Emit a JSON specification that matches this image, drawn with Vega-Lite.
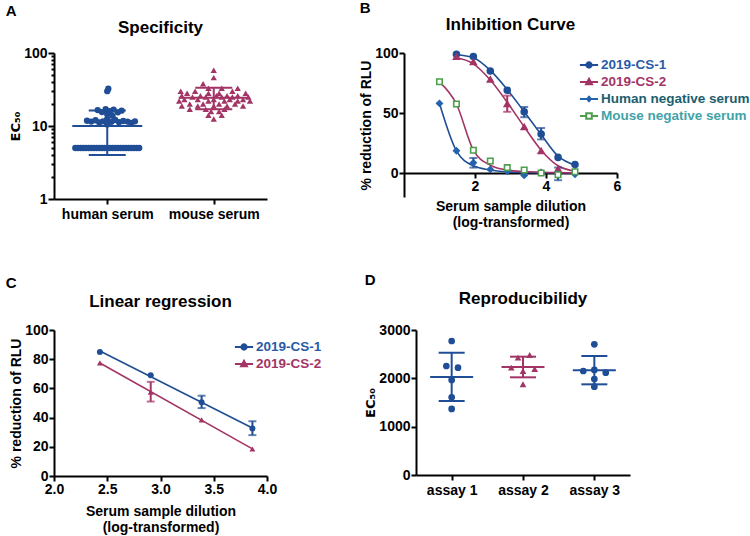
{
  "$schema": "https://vega.github.io/schema/vega-lite/v6.json",
  "padding": {"left": 5, "top": 1, "right": 5, "bottom": 5},
  "background": "white",
  "config": {
    "font": "Liberation Sans",
    "view": {"stroke": null},
    "axis": {"grid": false, "domainColor": "black", "domainWidth": 2, "tickColor": "black", "tickWidth": 2, "tickSize": 5, "labelFont": "Liberation Sans", "labelFontSize": 14, "labelFontWeight": "bold", "labelColor": "black", "titleFont": "Liberation Sans", "titleFontSize": 14, "titleFontWeight": "bold", "titleColor": "black", "labelPadding": 1, "titlePadding": 1, "labelFlush": false},
    "legend": {"labelFont": "Liberation Sans", "labelFontSize": 13.5, "labelFontWeight": "bold", "symbolSize": 196, "symbolStrokeWidth": 2, "rowPadding": 2, "labelOffset": 4, "padding": 0},
    "title": {"font": "Liberation Sans", "fontSize": 17, "fontWeight": "bold", "color": "black"}
  },
  "datasets": {
    "specA": [
      {"group": "human serum", "pos": 0.40, "ec50": 5}, {"group": "human serum", "pos": 0.45, "ec50": 5}, {"group": "human serum", "pos": 0.50, "ec50": 5}, {"group": "human serum", "pos": 0.55, "ec50": 5}, {"group": "human serum", "pos": 0.60, "ec50": 5},
      {"group": "human serum", "pos": 0.65, "ec50": 5}, {"group": "human serum", "pos": 0.70, "ec50": 5}, {"group": "human serum", "pos": 0.75, "ec50": 5}, {"group": "human serum", "pos": 0.80, "ec50": 5}, {"group": "human serum", "pos": 0.85, "ec50": 5},
      {"group": "human serum", "pos": 0.90, "ec50": 5}, {"group": "human serum", "pos": 0.95, "ec50": 5}, {"group": "human serum", "pos": 1.00, "ec50": 5}, {"group": "human serum", "pos": 1.05, "ec50": 5}, {"group": "human serum", "pos": 1.10, "ec50": 5},
      {"group": "human serum", "pos": 1.15, "ec50": 5}, {"group": "human serum", "pos": 1.20, "ec50": 5}, {"group": "human serum", "pos": 1.25, "ec50": 5}, {"group": "human serum", "pos": 1.30, "ec50": 5}, {"group": "human serum", "pos": 1.35, "ec50": 5},
      {"group": "human serum", "pos": 1.40, "ec50": 5}, {"group": "human serum", "pos": 1.45, "ec50": 5}, {"group": "human serum", "pos": 1.50, "ec50": 5}, {"group": "human serum", "pos": 1.55, "ec50": 5}, {"group": "human serum", "pos": 1.60, "ec50": 5},
      {"group": "human serum", "pos": 0.62, "ec50": 11.8}, {"group": "human serum", "pos": 0.70, "ec50": 11.5}, {"group": "human serum", "pos": 0.78, "ec50": 12.0}, {"group": "human serum", "pos": 0.85, "ec50": 11.2}, {"group": "human serum", "pos": 0.92, "ec50": 11.6},
      {"group": "human serum", "pos": 1.00, "ec50": 10.5}, {"group": "human serum", "pos": 1.00, "ec50": 11.8}, {"group": "human serum", "pos": 1.08, "ec50": 11.4}, {"group": "human serum", "pos": 1.15, "ec50": 12.1}, {"group": "human serum", "pos": 1.22, "ec50": 11.3},
      {"group": "human serum", "pos": 1.30, "ec50": 11.7}, {"group": "human serum", "pos": 1.38, "ec50": 11.5}, {"group": "human serum", "pos": 1.45, "ec50": 11.0}, {"group": "human serum", "pos": 1.52, "ec50": 11.6}, {"group": "human serum", "pos": 1.00, "ec50": 12.5},
      {"group": "human serum", "pos": 0.82, "ec50": 16.5}, {"group": "human serum", "pos": 0.90, "ec50": 15.5}, {"group": "human serum", "pos": 0.97, "ec50": 17.0}, {"group": "human serum", "pos": 1.05, "ec50": 16.0}, {"group": "human serum", "pos": 1.12, "ec50": 16.8},
      {"group": "human serum", "pos": 1.20, "ec50": 15.4}, {"group": "human serum", "pos": 1.27, "ec50": 16.2}, {"group": "human serum", "pos": 1.00, "ec50": 14.5}, {"group": "human serum", "pos": 1.10, "ec50": 13.8},
      {"group": "human serum", "pos": 1.00, "ec50": 30}, {"group": "human serum", "pos": 1.02, "ec50": 32.5},
      {"group": "mouse serum", "pos": 3.00, "ec50": 58}, {"group": "mouse serum", "pos": 3.00, "ec50": 46}, {"group": "mouse serum", "pos": 2.80, "ec50": 38},
      {"group": "mouse serum", "pos": 2.90, "ec50": 33}, {"group": "mouse serum", "pos": 3.15, "ec50": 33}, {"group": "mouse serum", "pos": 3.45, "ec50": 33},
      {"group": "mouse serum", "pos": 2.38, "ec50": 30}, {"group": "mouse serum", "pos": 2.65, "ec50": 30}, {"group": "mouse serum", "pos": 3.35, "ec50": 30},
      {"group": "mouse serum", "pos": 2.50, "ec50": 28}, {"group": "mouse serum", "pos": 2.90, "ec50": 28}, {"group": "mouse serum", "pos": 3.10, "ec50": 28}, {"group": "mouse serum", "pos": 3.60, "ec50": 28},
      {"group": "mouse serum", "pos": 2.40, "ec50": 26}, {"group": "mouse serum", "pos": 2.75, "ec50": 26}, {"group": "mouse serum", "pos": 3.05, "ec50": 26}, {"group": "mouse serum", "pos": 3.25, "ec50": 26}, {"group": "mouse serum", "pos": 3.45, "ec50": 26},
      {"group": "mouse serum", "pos": 2.60, "ec50": 25}, {"group": "mouse serum", "pos": 2.85, "ec50": 25}, {"group": "mouse serum", "pos": 3.15, "ec50": 25}, {"group": "mouse serum", "pos": 3.35, "ec50": 25}, {"group": "mouse serum", "pos": 3.65, "ec50": 25},
      {"group": "mouse serum", "pos": 2.45, "ec50": 23}, {"group": "mouse serum", "pos": 2.70, "ec50": 23}, {"group": "mouse serum", "pos": 3.00, "ec50": 23}, {"group": "mouse serum", "pos": 3.30, "ec50": 23}, {"group": "mouse serum", "pos": 3.55, "ec50": 23},
      {"group": "mouse serum", "pos": 2.35, "ec50": 22}, {"group": "mouse serum", "pos": 2.90, "ec50": 22}, {"group": "mouse serum", "pos": 3.20, "ec50": 22}, {"group": "mouse serum", "pos": 3.45, "ec50": 22}, {"group": "mouse serum", "pos": 3.68, "ec50": 22},
      {"group": "mouse serum", "pos": 2.55, "ec50": 20}, {"group": "mouse serum", "pos": 2.80, "ec50": 20}, {"group": "mouse serum", "pos": 3.10, "ec50": 20}, {"group": "mouse serum", "pos": 3.40, "ec50": 20},
      {"group": "mouse serum", "pos": 2.40, "ec50": 18.8}, {"group": "mouse serum", "pos": 2.70, "ec50": 18.8}, {"group": "mouse serum", "pos": 3.00, "ec50": 18.8}, {"group": "mouse serum", "pos": 3.25, "ec50": 18.8}, {"group": "mouse serum", "pos": 3.55, "ec50": 18.8},
      {"group": "mouse serum", "pos": 2.55, "ec50": 17}, {"group": "mouse serum", "pos": 2.85, "ec50": 17}, {"group": "mouse serum", "pos": 3.20, "ec50": 17},
      {"group": "mouse serum", "pos": 2.95, "ec50": 15.8}, {"group": "mouse serum", "pos": 3.10, "ec50": 15.8},
      {"group": "mouse serum", "pos": 2.90, "ec50": 14}, {"group": "mouse serum", "pos": 3.15, "ec50": 14},
      {"group": "mouse serum", "pos": 3.00, "ec50": 12.5}
    ],
    "statsA": [
      {"group": "human serum", "center": 1, "mean": 10, "lo": 4, "hi": 16.3},
      {"group": "mouse serum", "center": 3, "mean": 24.4, "lo": 16.9, "hi": 33.5}
    ],
    "curveB": [
      {"series": "2019-CS-1", "x": 1.477, "y": 99, "fit": 98.5},
      {"series": "2019-CS-1", "x": 1.954, "y": 97, "fit": 96},
      {"series": "2019-CS-1", "x": 2.431, "y": 85, "fit": 85.5},
      {"series": "2019-CS-1", "x": 2.908, "y": 69, "fit": 69.5},
      {"series": "2019-CS-1", "x": 3.386, "y": 51, "fit": 51, "lo": 46.5, "hi": 55},
      {"series": "2019-CS-1", "x": 3.863, "y": 32.5, "fit": 32, "lo": 28, "hi": 37.5},
      {"series": "2019-CS-1", "x": 4.34, "y": 13, "fit": 14},
      {"series": "2019-CS-1", "x": 4.817, "y": 7, "fit": 6.5},
      {"series": "2019-CS-2", "x": 1.477, "y": 97, "fit": 96},
      {"series": "2019-CS-2", "x": 1.954, "y": 92.5, "fit": 91},
      {"series": "2019-CS-2", "x": 2.431, "y": 78, "fit": 77.5},
      {"series": "2019-CS-2", "x": 2.908, "y": 57.5, "fit": 59, "lo": 51, "hi": 64.5},
      {"series": "2019-CS-2", "x": 3.386, "y": 38.5, "fit": 38.5},
      {"series": "2019-CS-2", "x": 3.863, "y": 18.5, "fit": 19},
      {"series": "2019-CS-2", "x": 4.34, "y": 3.5, "fit": 6},
      {"series": "2019-CS-2", "x": 4.817, "y": 1.5, "fit": 1.5},
      {"series": "Human negative serum", "x": 1.0, "y": 58, "fit": 58},
      {"series": "Human negative serum", "x": 1.477, "y": 18.5, "fit": 18.5},
      {"series": "Human negative serum", "x": 1.954, "y": 8.5, "fit": 6, "lo": 4.5, "hi": 12.5},
      {"series": "Human negative serum", "x": 2.431, "y": 3, "fit": 2.5},
      {"series": "Human negative serum", "x": 2.908, "y": 1.5, "fit": 1},
      {"series": "Human negative serum", "x": 3.386, "y": -2, "fit": 0.5},
      {"series": "Human negative serum", "x": 3.863, "y": 0.5, "fit": 0.3},
      {"series": "Human negative serum", "x": 4.34, "y": -1, "fit": 0.2, "lo": -6, "hi": 4.5},
      {"series": "Human negative serum", "x": 4.817, "y": -1, "fit": 0.1},
      {"series": "Mouse negative  serum", "x": 1.0, "y": 76, "fit": 76},
      {"series": "Mouse negative  serum", "x": 1.477, "y": 57.5, "fit": 57.5},
      {"series": "Mouse negative  serum", "x": 1.954, "y": 19, "fit": 19},
      {"series": "Mouse negative  serum", "x": 2.431, "y": 10, "fit": 6.5},
      {"series": "Mouse negative  serum", "x": 2.908, "y": 4.5, "fit": 2.5},
      {"series": "Mouse negative  serum", "x": 3.386, "y": 2.5, "fit": 1.2},
      {"series": "Mouse negative  serum", "x": 3.863, "y": 0, "fit": 0.6},
      {"series": "Mouse negative  serum", "x": 4.34, "y": -1.5, "fit": 0.3},
      {"series": "Mouse negative  serum", "x": 4.817, "y": 1, "fit": 0.2}
    ],
    "linC": [
      {"series": "2019-CS-1", "x": 2.431, "y": 85},
      {"series": "2019-CS-1", "x": 2.908, "y": 69},
      {"series": "2019-CS-1", "x": 3.386, "y": 50.5, "lo": 46.5, "hi": 55},
      {"series": "2019-CS-1", "x": 3.863, "y": 32.5, "lo": 28, "hi": 37.5},
      {"series": "2019-CS-2", "x": 2.431, "y": 77.5},
      {"series": "2019-CS-2", "x": 2.908, "y": 57.5, "lo": 51, "hi": 64.5},
      {"series": "2019-CS-2", "x": 3.386, "y": 38.5},
      {"series": "2019-CS-2", "x": 3.863, "y": 18.5}
    ],
    "repD": [
      {"assay": "assay 1", "pos": 1.0, "ec50": 2772}, {"assay": "assay 1", "pos": 0.925, "ec50": 2255}, {"assay": "assay 1", "pos": 1.089, "ec50": 2221},
      {"assay": "assay 1", "pos": 1.0, "ec50": 1966}, {"assay": "assay 1", "pos": 1.0, "ec50": 1608}, {"assay": "assay 1", "pos": 1.0, "ec50": 1366},
      {"assay": "assay 2", "pos": 1.93, "ec50": 2428}, {"assay": "assay 2", "pos": 2.094, "ec50": 2483}, {"assay": "assay 2", "pos": 1.836, "ec50": 2221},
      {"assay": "assay 2", "pos": 2.164, "ec50": 2193}, {"assay": "assay 2", "pos": 2.0, "ec50": 2152}, {"assay": "assay 2", "pos": 2.0, "ec50": 1877},
      {"assay": "assay 3", "pos": 3.0, "ec50": 2704}, {"assay": "assay 3", "pos": 2.845, "ec50": 2152}, {"assay": "assay 3", "pos": 3.0, "ec50": 2173},
      {"assay": "assay 3", "pos": 3.16, "ec50": 2118}, {"assay": "assay 3", "pos": 3.0, "ec50": 1986}, {"assay": "assay 3", "pos": 3.0, "ec50": 1828}
    ],
    "statsD": [
      {"assay": "assay 1", "center": 1, "mean": 2028, "lo": 1531, "hi": 2531},
      {"assay": "assay 2", "center": 2, "mean": 2234, "lo": 2021, "hi": 2448},
      {"assay": "assay 3", "center": 3, "mean": 2166, "lo": 1876, "hi": 2462}
    ]
  },
  "spacing": 44,
  "vconcat": [
    {
      "spacing": 92,
      "hconcat": [
        {
          "title": {"text": "A", "anchor": "start", "fontSize": 15, "offset": 0, "dx": -4},
          "vconcat": [
            {
              "title": {"text": "Specificity", "offset": 9},
              "width": 213, "height": 146,
              "layer": [
                {
                  "data": {"name": "specA"},
                  "mark": {"type": "point", "filled": true, "opacity": 1, "size": 40},
                  "encoding": {
                    "x": {"field": "pos", "type": "quantitative", "scale": {"domain": [0, 4], "nice": false}, "axis": {"values": [1, 3], "labelExpr": "datum.value == 1 ? 'human serum' : 'mouse serum'", "title": null, "labelPadding": 3}},
                    "y": {"field": "ec50", "type": "quantitative", "scale": {"type": "log", "domain": [1, 100], "nice": false}, "axis": {"values": [1, 2, 3, 4, 5, 6, 7, 8, 9, 10, 20, 30, 40, 50, 60, 70, 80, 90, 100], "labelExpr": "datum.value == 1 || datum.value == 10 || datum.value == 100 ? format(datum.value, 'd') : ''", "labelOverlap": false, "tickSize": {"condition": {"test": "datum.value == 1 || datum.value == 10 || datum.value == 100", "value": 6}, "value": 3}, "title": "EC₅₀", "titleFont": "DejaVu Sans", "titleFontSize": 13}},
                    "color": {"field": "group", "type": "nominal", "scale": {"domain": ["human serum", "mouse serum"], "range": ["#1f4e96", "#a33566"]}, "legend": null},
                    "shape": {"field": "group", "type": "nominal", "scale": {"domain": ["human serum", "mouse serum"], "range": ["circle", "triangle-up"]}, "legend": null}
                  }
                },
                {
                  "data": {"name": "statsA"},
                  "mark": {"type": "rule", "strokeWidth": 2},
                  "encoding": {
                    "x": {"field": "center", "type": "quantitative"},
                    "y": {"field": "lo", "type": "quantitative"},
                    "y2": {"field": "hi"},
                    "color": {"field": "group", "type": "nominal", "legend": null}
                  }
                },
                {
                  "data": {"name": "statsA"},
                  "mark": {"type": "tick", "orient": "horizontal", "size": 70, "thickness": 2, "opacity": 1},
                  "encoding": {
                    "x": {"field": "center", "type": "quantitative"},
                    "y": {"field": "mean", "type": "quantitative"},
                    "color": {"field": "group", "type": "nominal", "legend": null}
                  }
                },
                {
                  "data": {"name": "statsA"},
                  "mark": {"type": "tick", "orient": "horizontal", "size": 37, "thickness": 2, "opacity": 1},
                  "encoding": {
                    "x": {"field": "center", "type": "quantitative"},
                    "y": {"field": "lo", "type": "quantitative"},
                    "color": {"field": "group", "type": "nominal", "legend": null}
                  }
                },
                {
                  "data": {"name": "statsA"},
                  "mark": {"type": "tick", "orient": "horizontal", "size": 37, "thickness": 2, "opacity": 1},
                  "encoding": {
                    "x": {"field": "center", "type": "quantitative"},
                    "y": {"field": "hi", "type": "quantitative"},
                    "color": {"field": "group", "type": "nominal", "legend": null}
                  }
                }
              ]
            }
          ]
        },
        {
          "title": {"text": "B", "anchor": "start", "fontSize": 15, "offset": 0, "dx": 0},
          "vconcat": [
            {
              "title": {"text": "Inhibition Curve", "offset": 12},
              "width": 213, "height": 144,
              "data": {"name": "curveB"},
              "encoding": {
                "x": {"field": "x", "type": "quantitative", "scale": {"domain": [0, 6], "nice": false}, "axis": {"values": [2, 4, 6], "offset": -24, "title": ["Serum sample dilution", "(log-transformed)"], "titlePadding": 6}},
                "y": {"field": "y", "type": "quantitative", "scale": {"domain": [-20, 100], "nice": false}, "axis": {"values": [0, 50, 100], "title": "% reduction of  RLU"}}
              },
              "layer": [
                {
                  "mark": {"type": "line", "interpolate": "monotone", "strokeWidth": 1.6},
                  "encoding": {
                    "y": {"field": "fit", "type": "quantitative"},
                    "color": {"field": "series", "type": "nominal", "scale": {"domain": ["2019-CS-1", "2019-CS-2", "Human negative serum", "Mouse negative  serum"], "range": ["#1f4e96", "#a33566", "#2563ad", "#4d9e4d"]}, "legend": null}
                  }
                },
                {
                  "transform": [{"filter": "isValid(datum.lo)"}],
                  "mark": {"type": "errorbar", "ticks": true, "size": 8, "thickness": 2},
                  "encoding": {
                    "y": {"field": "lo", "type": "quantitative"},
                    "y2": {"field": "hi"},
                    "color": {"field": "series", "type": "nominal", "legend": null}
                  }
                },
                {
                  "mark": {"type": "point", "opacity": 1, "strokeWidth": 1.6},
                  "encoding": {
                    "shape": {"field": "series", "type": "nominal", "scale": {"domain": ["2019-CS-1", "2019-CS-2", "Human negative serum", "Mouse negative  serum"], "range": ["circle", "triangle-up", "diamond", "square"]}, "legend": null},
                    "stroke": {"field": "series", "type": "nominal", "scale": {"domain": ["2019-CS-1", "2019-CS-2", "Human negative serum", "Mouse negative  serum"], "range": ["#1f4e96", "#a33566", "#2563ad", "#4d9e4d"]}, "legend": null},
                    "fill": {"field": "series", "type": "nominal", "scale": {"domain": ["2019-CS-1", "2019-CS-2", "Human negative serum", "Mouse negative  serum"], "range": ["#1f4e96", "#a33566", "#2563ad", "#ffffff"]}, "legend": null},
                    "size": {"field": "series", "type": "nominal", "scale": {"domain": ["2019-CS-1", "2019-CS-2", "Human negative serum", "Mouse negative  serum"], "range": [36, 30, 16, 40]}, "legend": null}
                  }
                },
                {
                  "transform": [{"filter": "false"}],
                  "mark": {"type": "point", "opacity": 1, "strokeWidth": 2},
                  "encoding": {
                    "shape": {"field": "series", "type": "nominal", "scale": {"domain": ["2019-CS-1", "2019-CS-2", "Human negative serum", "Mouse negative  serum"], "range": ["M-1.3,0H1.3M-0.38,0A0.38,0.38,0,1,0,0.38,0A0.38,0.38,0,1,0,-0.38,0Z", "M-1.3,0H1.3M0,-0.45L0.42,0.32L-0.42,0.32Z", "M-1.3,0H1.3M0,-0.32L0.27,0L0,0.32L-0.27,0Z", "M-1.3,0H-0.4M0.4,0H1.3M-0.4,-0.4H0.4V0.4H-0.4Z"]}, "legend": {"title": null, "orient": "none", "legendX": 177, "legendY": 4, "labelColor": {"expr": "datum.label == '2019-CS-1' ? '#2a5ba8' : datum.label == '2019-CS-2' ? '#a33566' : datum.label == 'Human negative serum' ? '#1b5e6e' : '#3fa3a8'"}}},
                    "stroke": {"field": "series", "type": "nominal", "scale": {"domain": ["2019-CS-1", "2019-CS-2", "Human negative serum", "Mouse negative  serum"], "range": ["#1f4e96", "#a33566", "#2563ad", "#4d9e4d"]}},
                    "fill": {"field": "series", "type": "nominal", "scale": {"domain": ["2019-CS-1", "2019-CS-2", "Human negative serum", "Mouse negative  serum"], "range": ["#1f4e96", "#a33566", "#2563ad", "#ffffff"]}}
                  }
                }
              ],
              "resolve": {"scale": {"shape": "independent", "stroke": "independent", "fill": "independent"}}
            }
          ]
        }
      ]
    },
    {
      "spacing": 42,
      "hconcat": [
        {
          "title": {"text": "C", "anchor": "start", "fontSize": 15, "offset": 2, "dx": -4},
          "vconcat": [
            {
              "title": {"text": "Linear regression", "offset": 12},
              "width": 213, "height": 146,
              "data": {"name": "linC"},
              "encoding": {
                "x": {"field": "x", "type": "quantitative", "scale": {"domain": [2, 4], "nice": false}, "axis": {"values": [2, 2.5, 3, 3.5, 4], "format": ".1f", "title": ["Serum sample dilution", "(log-transformed)"], "titlePadding": 8}},
                "y": {"field": "y", "type": "quantitative", "scale": {"domain": [0, 100], "nice": false}, "axis": {"values": [0, 20, 40, 60, 80, 100], "title": "% reduction of  RLU"}}
              },
              "layer": [
                {
                  "transform": [{"regression": "y", "on": "x", "groupby": ["series"]}],
                  "mark": {"type": "line", "strokeWidth": 1.6},
                  "encoding": {
                    "color": {"field": "series", "type": "nominal", "scale": {"domain": ["2019-CS-1", "2019-CS-2"], "range": ["#1f4e96", "#a33566"]}, "legend": null}
                  }
                },
                {
                  "transform": [{"filter": "isValid(datum.lo)"}],
                  "mark": {"type": "errorbar", "ticks": true, "size": 8, "thickness": 2},
                  "encoding": {
                    "y": {"field": "lo", "type": "quantitative"},
                    "y2": {"field": "hi"},
                    "color": {"field": "series", "type": "nominal", "legend": null}
                  }
                },
                {
                  "mark": {"type": "point", "filled": true, "opacity": 1, "size": 36},
                  "encoding": {
                    "shape": {"field": "series", "type": "nominal", "scale": {"domain": ["2019-CS-1", "2019-CS-2"], "range": ["circle", "triangle-up"]}, "legend": null},
                    "color": {"field": "series", "type": "nominal", "legend": null}
                  }
                },
                {
                  "transform": [{"filter": "false"}],
                  "mark": {"type": "point", "opacity": 1, "strokeWidth": 2},
                  "encoding": {
                    "shape": {"field": "series", "type": "nominal", "scale": {"domain": ["2019-CS-1", "2019-CS-2"], "range": ["M-1.3,0H1.3M-0.38,0A0.38,0.38,0,1,0,0.38,0A0.38,0.38,0,1,0,-0.38,0Z", "M-1.3,0H1.3M0,-0.45L0.42,0.32L-0.42,0.32Z"]}, "legend": {"title": null, "orient": "none", "legendX": 182, "legendY": 9, "labelColor": {"expr": "datum.label == '2019-CS-1' ? '#2a5ba8' : '#a33566'"}}},
                    "stroke": {"field": "series", "type": "nominal", "scale": {"domain": ["2019-CS-1", "2019-CS-2"], "range": ["#1f4e96", "#a33566"]}},
                    "fill": {"field": "series", "type": "nominal", "scale": {"domain": ["2019-CS-1", "2019-CS-2"], "range": ["#1f4e96", "#a33566"]}}
                  }
                }
              ],
              "resolve": {"scale": {"shape": "independent", "stroke": "independent", "fill": "independent"}}
            }
          ]
        },
        {
          "title": {"text": "D", "anchor": "start", "fontSize": 15, "offset": 2, "dx": 0},
          "vconcat": [
            {
              "title": {"text": "Reproducibilidy", "offset": 15},
              "width": 214, "height": 145,
              "layer": [
                {
                  "data": {"name": "repD"},
                  "mark": {"type": "point", "filled": true, "opacity": 1, "size": 45},
                  "encoding": {
                    "x": {"field": "pos", "type": "quantitative", "scale": {"domain": [0.5, 3.5], "nice": false, "zero": false}, "axis": {"values": [1, 2, 3], "labelExpr": "'assay ' + datum.value", "title": null, "labelPadding": 3}},
                    "y": {"field": "ec50", "type": "quantitative", "scale": {"domain": [0, 3000], "nice": false}, "axis": {"values": [0, 1000, 2000, 3000], "format": "d", "title": "EC₅₀", "titleFont": "DejaVu Sans", "titleFontSize": 13}},
                    "color": {"field": "assay", "type": "nominal", "scale": {"domain": ["assay 1", "assay 2", "assay 3"], "range": ["#1f4e96", "#a33566", "#1f4e96"]}, "legend": null},
                    "shape": {"field": "assay", "type": "nominal", "scale": {"domain": ["assay 1", "assay 2", "assay 3"], "range": ["circle", "triangle-up", "circle"]}, "legend": null}
                  }
                },
                {
                  "data": {"name": "statsD"},
                  "mark": {"type": "rule", "strokeWidth": 2},
                  "encoding": {
                    "x": {"field": "center", "type": "quantitative"},
                    "y": {"field": "lo", "type": "quantitative"},
                    "y2": {"field": "hi"},
                    "color": {"field": "assay", "type": "nominal", "legend": null}
                  }
                },
                {
                  "data": {"name": "statsD"},
                  "mark": {"type": "tick", "orient": "horizontal", "size": 43, "thickness": 2, "opacity": 1},
                  "encoding": {
                    "x": {"field": "center", "type": "quantitative"},
                    "y": {"field": "mean", "type": "quantitative"},
                    "color": {"field": "assay", "type": "nominal", "legend": null}
                  }
                },
                {
                  "data": {"name": "statsD"},
                  "mark": {"type": "tick", "orient": "horizontal", "size": 26, "thickness": 2, "opacity": 1},
                  "encoding": {
                    "x": {"field": "center", "type": "quantitative"},
                    "y": {"field": "lo", "type": "quantitative"},
                    "color": {"field": "assay", "type": "nominal", "legend": null}
                  }
                },
                {
                  "data": {"name": "statsD"},
                  "mark": {"type": "tick", "orient": "horizontal", "size": 26, "thickness": 2, "opacity": 1},
                  "encoding": {
                    "x": {"field": "center", "type": "quantitative"},
                    "y": {"field": "hi", "type": "quantitative"},
                    "color": {"field": "assay", "type": "nominal", "legend": null}
                  }
                }
              ]
            }
          ]
        }
      ]
    }
  ]
}
